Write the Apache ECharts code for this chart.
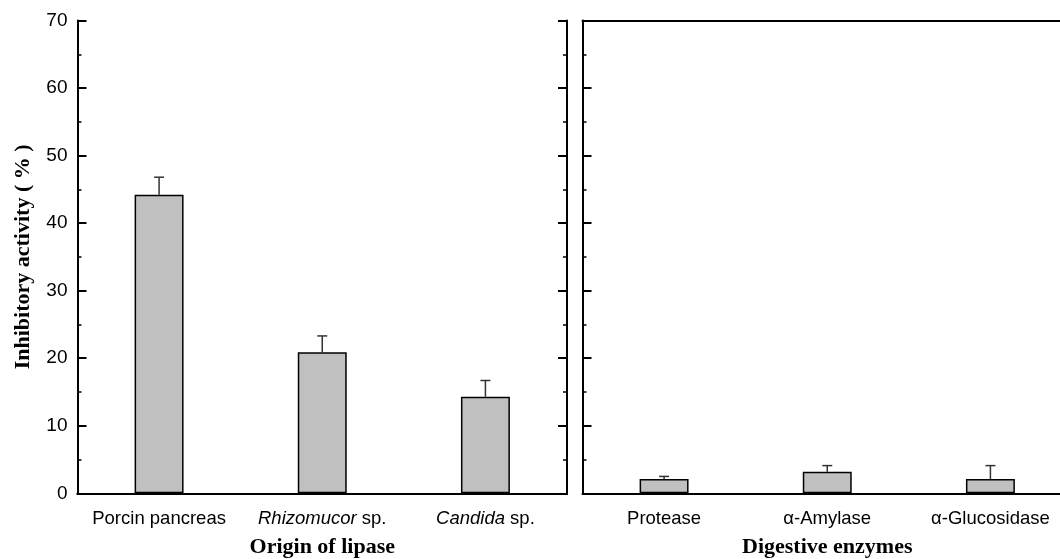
<!DOCTYPE html>
<html>
<head>
<meta charset="utf-8">
<script src="https://cdn.jsdelivr.net/npm/echarts@6/dist/echarts.min.js"></script>
<style>
  html, body { margin: 0; padding: 0; background: #fff; }
  #chart { width: 1060px; height: 559px; }
</style>
</head>
<body>
<div id="chart"></div>
<script>
const lipaseCategories = ["Porcin pancreas", "Rhizomucor sp.", "Candida sp."];
const lipaseValues = [44.2, 20.9, 14.3];
const lipaseErrors = [2.6, 2.4, 2.4];

const enzymeCategories = ["Protease", "α-Amylase", "α-Glucosidase"];
const enzymeValues = [2.1, 3.2, 2.1];
const enzymeErrors = [0.4, 0.9, 2.0];

const yTicks = { min: 0, max: 70, interval: 10 };

const sansFont = "Liberation Sans, Arial, sans-serif";
const serifFont = "Liberation Serif, Times New Roman, serif";

// italic genus names in the category labels
const italicNames = { "Rhizomucor sp.": "Rhizomucor", "Candida sp.": "Candida" };
function labelFormatter(v) {
  const genus = italicNames[v];
  return genus ? "{i|" + genus + "}" + v.slice(genus.length) : v;
}

function errorBar(params, api) {
  const x = api.value(0);
  const v = api.value(1);
  const e = api.value(2);
  const base = api.coord([x, v]);
  const top = api.coord([x, v + e]);
  const style = { stroke: "#333", lineWidth: 1.5 };
  return {
    type: "group",
    children: [
      { type: "line", shape: { x1: base[0], y1: base[1], x2: top[0], y2: top[1] }, style },
      { type: "line", shape: { x1: top[0] - 5, y1: top[1], x2: top[0] + 5, y2: top[1] }, style },
    ],
  };
}

const axisLine = { lineStyle: { color: "#000", width: 2 } };

function bottomAxis(grid, cats, name) {
  return {
    type: "category",
    gridIndex: grid,
    position: "bottom",
    data: cats,
    axisLine,
    axisTick: { alignWithLabel: true, inside: false, length: 9, lineStyle: { color: "#000", width: 2 } },
    axisLabel: {
      interval: 0,
      margin: 16,
      color: "#000",
      fontFamily: sansFont,
      fontSize: 18.5,
      formatter: labelFormatter,
      rich: { i: { fontStyle: "italic", fontFamily: sansFont, fontSize: 18.5, color: "#000" } },
    },
    name,
    nameLocation: "middle",
    nameGap: 43,
    nameTextStyle: { fontFamily: serifFont, fontWeight: "bold", fontSize: 22, color: "#000" },
  };
}

function topAxis(grid, cats) {
  return {
    type: "category",
    gridIndex: grid,
    position: "top",
    data: cats,
    axisLine,
    axisTick: { alignWithLabel: true, inside: true, length: 3, lineStyle: { color: "#000", width: 1.5 } },
    axisLabel: { show: false },
  };
}

function valueAxis(grid, position, withLabels) {
  return {
    type: "value",
    gridIndex: grid,
    position,
    min: yTicks.min,
    max: yTicks.max,
    interval: yTicks.interval,
    axisLine: { show: true, lineStyle: { color: "#000", width: 2 } },
    axisTick: { show: true, inside: true, length: 9, lineStyle: { color: "#000", width: 2 } },
    minorTick: { show: true, splitNumber: 2, length: 4, lineStyle: { color: "#000", width: 1.5 } },
    splitLine: { show: false },
    axisLabel: { show: withLabels, margin: 10, color: "#000", fontFamily: sansFont, fontSize: 19 },
    name: withLabels ? "Inhibitory activity ( % )" : "",
    nameLocation: "middle",
    nameGap: 43,
    nameTextStyle: { fontFamily: serifFont, fontWeight: "bold", fontSize: 22, color: "#000" },
  };
}

const barStyle = { color: "#c0c0c0", borderColor: "#000", borderWidth: 1.5 };

const chart = echarts.init(document.getElementById("chart"));
chart.setOption({
  animation: false,
  backgroundColor: "#fff",
  grid: [
    { left: 77.5, top: 20.5, width: 489.5, height: 472.8, outerBoundsMode: "none" },
    { left: 582.5, top: 20.5, width: 489.5, height: 472.8, outerBoundsMode: "none" },
  ],
  xAxis: [
    bottomAxis(0, lipaseCategories, "Origin of lipase"),
    topAxis(0, lipaseCategories),
    bottomAxis(1, enzymeCategories, "Digestive enzymes"),
    topAxis(1, enzymeCategories),
  ],
  yAxis: [
    valueAxis(0, "left", true),
    valueAxis(0, "right", false),
    valueAxis(1, "left", false),
  ],
  series: [
    {
      type: "bar",
      xAxisIndex: 0,
      yAxisIndex: 0,
      barWidth: "30%",
      itemStyle: barStyle,
      data: lipaseValues,
    },
    {
      type: "custom",
      xAxisIndex: 0,
      yAxisIndex: 0,
      z: 3,
      renderItem: errorBar,
      data: lipaseValues.map((v, i) => [i, v, lipaseErrors[i]]),
    },
    {
      type: "bar",
      xAxisIndex: 2,
      yAxisIndex: 2,
      barWidth: "30%",
      itemStyle: barStyle,
      data: enzymeValues,
    },
    {
      type: "custom",
      xAxisIndex: 2,
      yAxisIndex: 2,
      z: 3,
      renderItem: errorBar,
      data: enzymeValues.map((v, i) => [i, v, enzymeErrors[i]]),
    },
  ],
});
</script>
</body>
</html>
